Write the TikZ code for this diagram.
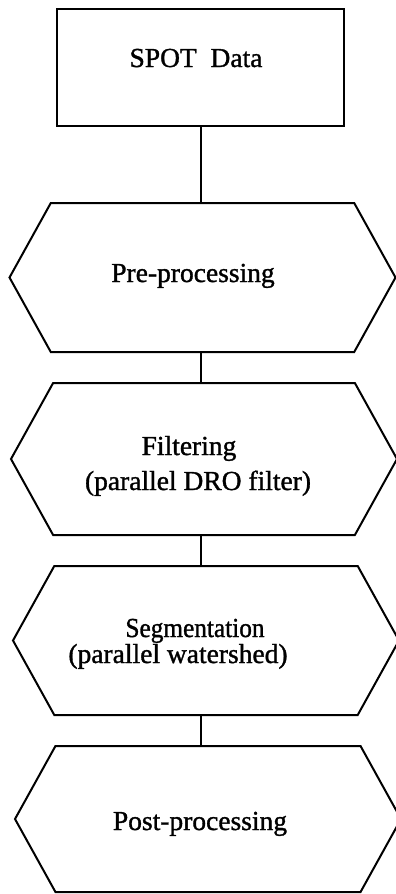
\documentclass[tikz,border=0pt]{standalone}
\usepackage{fontspec}
\setmainfont{Liberation Serif}
% a slightly heavier cut of the serif face for the labels
\newfontfamily\labelserif{Liberation Serif}[BoldFont={Liberation Serif}, BoldFeatures={FakeBold=1.2}]
\usetikzlibrary{shapes.symbols}
\begin{document}
\begin{tikzpicture}[x=1pt,y=-1pt,
  outline/.style={draw=black, line width=2pt},
  databox/.style={outline, rectangle, minimum width=287pt, minimum height=117pt, inner sep=0pt, outer sep=0pt},
  hexstep/.style={outline, signal, signal to=west and east, signal pointer angle=122,
    minimum width=386pt, minimum height=149pt, inner sep=0pt, outer sep=0pt},
  lbl/.style={anchor=base, font=\labelserif\bfseries\fontsize{27.5}{32}\selectfont, inner sep=0pt},
  link/.style={line width=2pt}]
\useasboundingbox (0,0) rectangle (396,894);

% process chain
\node[databox] (spot) at (200.5,67.5) {};
\node[hexstep] (pre)  at (202.5,277.5) {};
\node[hexstep, minimum height=152pt] (filt) at (204,459) {};
\node[hexstep] (seg)  at (206,640.5) {};
\node[hexstep, minimum height=146pt] (post) at (208,819) {};

% labels
\node[lbl] (tspot) at (196,67) {SPOT\enspace Data};
\node[lbl] (tpre)  at (193,282) {Pre-processing};
\node[lbl] (tfilt) at (189,455) {Filtering};
\node[lbl] (tfilt2) at (198,490) {(parallel DRO filter)};
\node[lbl] (tseg)  at (195,637) {\scalebox{0.92}[1]{Segmentation}};
\node[lbl] (tseg2) at (178,663) {(parallel watershed)};
\node[lbl] (tpost) at (200,830) {Post-processing};

% connectors
\draw[link] (spot.south) -- (spot.south |- pre.north);
\draw[link] (pre.south -| spot.south) -- (spot.south |- filt.north);
\draw[link] (filt.south -| spot.south) -- (spot.south |- seg.north);
\draw[link] (seg.south -| spot.south) -- (spot.south |- post.north);
\end{tikzpicture}
\end{document}
